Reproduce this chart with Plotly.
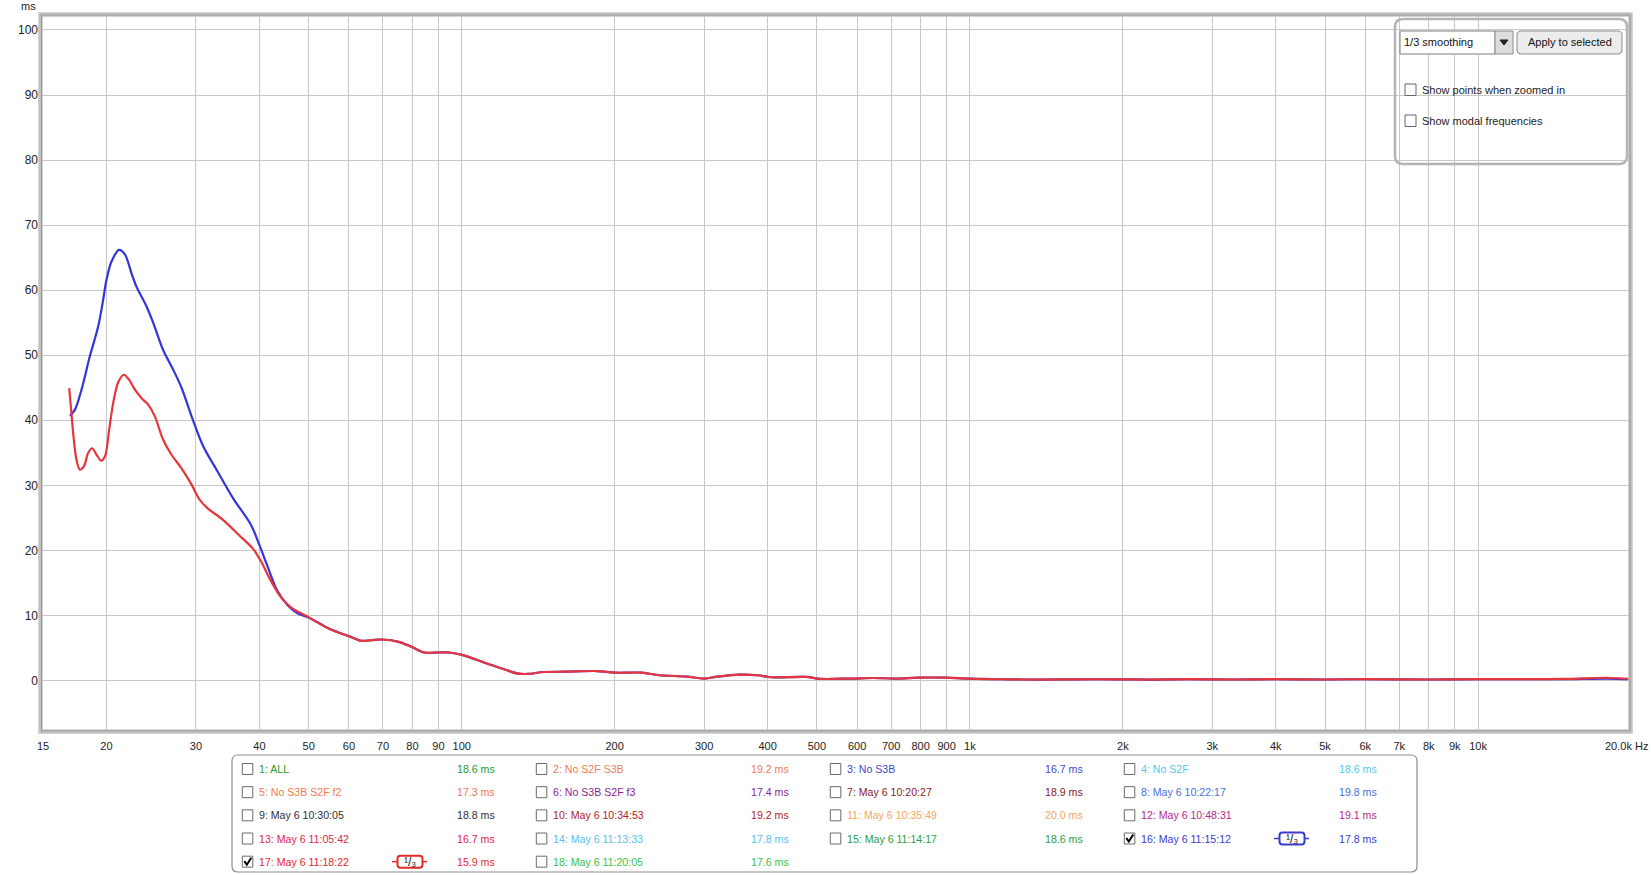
import math
import plotly.graph_objects as go

# ---------------- data ----------------
# measurement 16 (blue), low-frequency part (Hz, ms)
freq_16_low = [16.94, 17.33, 17.86, 18.54, 19.26, 19.70, 20.0, 20.46, 21.18, 21.74, 22.40, 22.92,
               23.98, 24.71, 25.85, 27.05, 28.10, 29.41, 31.0, 32.93, 35.5, 38.5, 40.0, 41.6,
               43.3, 45.4, 47.6, 50.0]
ms_16_low = [40.7, 41.6, 44.7, 49.8, 54.4, 58.5, 61.6, 64.4, 66.2, 65.5, 62.6, 60.5,
             57.5, 55.0, 50.8, 47.8, 45.0, 40.6, 36.0, 32.4, 28.0, 23.9, 20.8, 17.3,
             13.9, 11.6, 10.3, 9.7]

# measurement 17 (red), low-frequency part
freq_17_low = [16.89, 17.02, 17.2, 17.46, 17.73, 18.05, 18.41, 18.74, 19.12, 19.5, 19.85, 20.24,
               20.61, 21.08, 21.64, 22.17, 22.75, 23.45, 24.16, 24.9, 25.85, 26.85, 28.1, 29.41,
               30.5, 31.6, 33.9, 36.4, 38.8, 40.3, 42.0, 44.0, 46.2, 50.0]
ms_17_low = [44.95, 42.1, 38.0, 33.9, 32.4, 32.9, 35.0, 35.7, 34.7, 33.8, 34.4, 38.5,
             42.6, 45.8, 47.0, 46.2, 44.7, 43.4, 42.4, 40.6, 37.0, 34.7, 32.6, 30.1,
             27.8, 26.5, 24.7, 22.4, 20.3, 18.3, 15.5, 12.9, 11.2, 9.7]

# common upper part (both measurements overlap)
freq_tail = [55.0, 60.5, 63.4, 66.5, 69.7, 75.5, 80, 84.4, 90, 94.4, 100.6, 111.3, 121.6, 128.3,
             134.9, 144.9, 160.2, 184.6, 200, 225.9, 245, 277, 300, 318.9, 352.3, 382.1, 406,
             476, 507, 584, 646, 715, 792, 893, 1000, 1186, 1391, 1605, 1965, 2260, 2700, 3300,
             4000, 5000, 6000, 8000, 10000, 12500, 15000, 17900, 20000]
ms_tail_17 = [7.9, 6.7, 6.1, 6.2, 6.3, 5.9, 5.1, 4.3, 4.3, 4.3, 3.9, 2.7, 1.7, 1.1,
              1.0, 1.3, 1.35, 1.45, 1.2, 1.2, 0.8, 0.6, 0.3, 0.6, 0.9, 0.8, 0.5,
              0.55, 0.25, 0.3, 0.38, 0.3, 0.44, 0.44, 0.28, 0.18, 0.13, 0.18, 0.18, 0.13, 0.2, 0.15,
              0.2, 0.15, 0.2, 0.15, 0.2, 0.2, 0.25, 0.42, 0.2]
ms_tail_16 = [7.9, 6.7, 6.1, 6.2, 6.3, 5.9, 5.1, 4.3, 4.3, 4.3, 3.9, 2.7, 1.7, 1.1,
              1.0, 1.3, 1.35, 1.45, 1.2, 1.2, 0.8, 0.6, 0.3, 0.6, 0.9, 0.8, 0.5,
              0.55, 0.25, 0.3, 0.38, 0.3, 0.44, 0.44, 0.28, 0.18, 0.13, 0.18, 0.18, 0.13, 0.2, 0.15,
              0.2, 0.15, 0.2, 0.15, 0.2, 0.2, 0.22, 0.3, 0.2]

# measurement list (table under the chart)
entry_names = ["1: ALL", "2: No S2F S3B", "3: No S3B", "4: No S2F",
               "5: No S3B S2F f2", "6: No S3B S2F f3", "7: May 6 10:20:27", "8: May 6 10:22:17",
               "9: May 6 10:30:05", "10: May 6 10:34:53", "11: May 6 10:35:49", "12: May 6 10:48:31",
               "13: May 6 11:05:42", "14: May 6 11:13:33", "15: May 6 11:14:17", "16: May 6 11:15:12",
               "17: May 6 11:18:22", "18: May 6 11:20:05"]
entry_ms = [18.6, 19.2, 16.7, 18.6, 17.3, 17.4, 18.9, 19.8, 18.8, 19.2, 20.0, 19.1,
            16.7, 17.8, 18.6, 17.8, 15.9, 17.6]
entry_checked = [16, 17]

x_tick_vals = [15, 20, 30, 40, 50, 60, 70, 80, 90, 100, 200, 300, 400, 500, 600, 700, 800, 900,
               1000, 2000, 3000, 4000, 5000, 6000, 7000, 8000, 9000, 10000]
x_tick_text = ["15", "20", "30", "40", "50", "60", "70", "80", "90", "100", "200", "300", "400",
               "500", "600", "700", "800", "900", "1k", "2k", "3k", "4k", "5k", "6k", "7k", "8k",
               "9k", "10k"]
x_end_label = "20.0k Hz"
y_tick_vals = [0, 10, 20, 30, 40, 50, 60, 70, 80, 90, 100]

# ---------------- styles ----------------
entry_colors = ["#2a9a2a", "#f07c52", "#4545c8", "#55c6e8",
                "#f07a4a", "#8c1e8c", "#8b1c1c", "#4a70d8",
                "#303030", "#b41e22", "#f4a55c", "#b42a8c",
                "#e0284a", "#5bc0eb", "#2e9e3e", "#3a3ad0",
                "#e52a2a", "#3cc43c"]
BLUE = "#3434dc"
RED = "#e6353c"
FONT = "Liberation Sans, Arial, sans-serif"
W_FIG, H_FIG = 1651, 875
L, R, T, B = 43, 1631, 15, 732
PW, PH = R - L, B - T


def X(px):
    return (px - L) / PW


def Y(py):
    return (B - py) / PH


def rrect_path(x0, y0, x1, y1, r):
    pts = [("M", [(x0 + r, y0)]), ("L", [(x1 - r, y0)]), ("Q", [(x1, y0), (x1, y0 + r)]),
           ("L", [(x1, y1 - r)]), ("Q", [(x1, y1), (x1 - r, y1)]), ("L", [(x0 + r, y1)]),
           ("Q", [(x0, y1), (x0, y1 - r)]), ("L", [(x0, y0 + r)]), ("Q", [(x0, y0), (x0 + r, y0)])]
    s = ""
    for cmd, ps in pts:
        s += cmd + " " + " ".join(f"{X(a):.6f},{Y(b):.6f}" for a, b in ps) + " "
    return s + "Z"


shapes = []
annotations = []


def rect(x0, y0, x1, y1, line_color, line_width=1, fill=None, layer="above"):
    shapes.append(dict(type="rect", xref="paper", yref="paper", x0=X(x0), x1=X(x1), y0=Y(y1), y1=Y(y0),
                       line=dict(color=line_color, width=line_width),
                       fillcolor=fill if fill else "rgba(0,0,0,0)", layer=layer))


def path(d, line_color, line_width=1, fill=None):
    shapes.append(dict(type="path", xref="paper", yref="paper", path=d,
                       line=dict(color=line_color, width=line_width),
                       fillcolor=fill if fill else "rgba(0,0,0,0)", layer="above"))


def seg(x0, y0, x1, y1, color, width=1):
    shapes.append(dict(type="line", xref="paper", yref="paper", x0=X(x0), x1=X(x1), y0=Y(y0), y1=Y(y1),
                       line=dict(color=color, width=width), layer="above"))


def text(px, py, s, size=11, color="#222", anchor="left"):
    annotations.append(dict(xref="paper", yref="paper", x=X(px), y=Y(py), text=s, showarrow=False,
                            xanchor=anchor, yanchor="middle", font=dict(family=FONT, size=size, color=color),
                            borderpad=0))


# ---------------- figure ----------------
fig = go.Figure()
fig.add_trace(go.Scatter(x=freq_16_low + freq_tail, y=ms_16_low + ms_tail_16, mode="lines",
                         line=dict(color=BLUE, width=2.2, shape="spline", smoothing=0.9),
                         hoverinfo="skip", name="16"))
fig.add_trace(go.Scatter(x=freq_17_low + freq_tail, y=ms_17_low + ms_tail_17, mode="lines",
                         line=dict(color=RED, width=2.2, shape="spline", smoothing=0.9),
                         hoverinfo="skip", name="17"))

# plot frame
rect(40.5, 14.5, 1630.5, 731.5, "#c4c4c4", 4.5)
rect(41.5, 15.0, 1630.0, 731.0, "#9c9c9c", 1.2)

# axis unit labels
text(37, 6, "ms", size=11, color="#222", anchor="right")
annotations.append(dict(xref="x", yref="paper", x=math.log10(20000), y=Y(746), text=x_end_label,
                        showarrow=False, xanchor="left", xshift=-28, yanchor="middle",
                        font=dict(family=FONT, size=11, color="#222")))

# top-right option panel
path(rrect_path(1395, 19, 1627, 164, 8), "#b4b4b4", 2.5)
rect(1400, 31, 1495, 54, "#7f7f7f", 1, "#ffffff")
rect(1495, 31, 1513, 54, "#8a8a8a", 1, "#dcdcdc")
path(f"M {X(1500):.6f},{Y(40):.6f} L {X(1508):.6f},{Y(40):.6f} L {X(1504):.6f},{Y(45):.6f} Z", "#222", 1, "#222")
text(1403, 42.5, "1/3 smoothing", size=11, color="#111")
path(rrect_path(1517, 31, 1622, 54, 4), "#8a8a8a", 1, "#ececec")
text(1569.5, 42.5, "Apply to selected", size=11, color="#111", anchor="center")
rect(1405, 84, 1416, 95.5, "#666666", 1, "#ffffff")
text(1421, 90, "Show points when zoomed in", size=11, color="#222")
rect(1405, 115, 1416, 126.5, "#666666", 1, "#ffffff")
text(1421, 121, "Show modal frequencies", size=11, color="#222")

# measurement table
path(rrect_path(232, 755, 1417, 872, 6), "#8c8c8c", 1.2, "#ffffff")
for i, name in enumerate(entry_names):
    num = i + 1
    row, col = i // 4, i % 4
    yc = 769 + row * 23.17
    c = entry_colors[i]
    cx = 242.3 + 294 * col
    rect(cx, yc - 5.5, cx + 10.5, yc + 5.5, "#6a6a6a", 1, "#ffffff")
    if num in entry_checked:
        path(f"M {X(cx + 2):.6f},{Y(yc - 0.5):.6f} L {X(cx + 4.5):.6f},{Y(yc + 3):.6f} "
             f"L {X(cx + 9):.6f},{Y(yc - 4):.6f}", "#000000", 2)
        bx = 410 + 294 * col
        seg(bx - 18, yc, bx - 12.5, yc, c, 1.5)
        seg(bx + 12.5, yc, bx + 17, yc, c, 1.5)
        path(rrect_path(bx - 12.5, yc - 6, bx + 12.5, yc + 6, 3), c, 2, "#ffffff")
        text(bx, yc, "\u00b9/\u2083", size=12, color="#111", anchor="center")
    text(258.3 + 294 * col, yc, name, size=10.6, color=c)
    text(495.7 + 294 * col, yc, f"{entry_ms[i]:.1f} ms", size=10.6, color=c, anchor="right")

fig.update_layout(
    width=W_FIG, height=H_FIG, autosize=False,
    margin=dict(l=L, r=W_FIG - R, t=T, b=H_FIG - B, pad=0),
    paper_bgcolor="#ffffff", plot_bgcolor="#ffffff",
    showlegend=False,
    font=dict(family=FONT, size=11, color="#222"),
    xaxis=dict(type="log", range=[math.log10(15), math.log10(20000)],
               tickmode="array", tickvals=x_tick_vals, ticktext=x_tick_text,
               showgrid=True, gridcolor="#c8c8c8", gridwidth=1, zeroline=False, showline=False,
               ticks="", tickfont=dict(family=FONT, size=11, color="#222"), ticklabelstandoff=6),
    yaxis=dict(range=[-7.92, 102.3], tickmode="array", tickvals=y_tick_vals,
               showgrid=True, gridcolor="#c8c8c8", gridwidth=1, zeroline=False, showline=False,
               ticks="", tickfont=dict(family=FONT, size=12, color="#222"), ticklabelstandoff=4),
    shapes=shapes,
    annotations=annotations,
)

fig.write_html("out.html", config={"displayModeBar": False},
               post_script="document.body.style.margin='0';document.body.style.overflow='hidden';")
